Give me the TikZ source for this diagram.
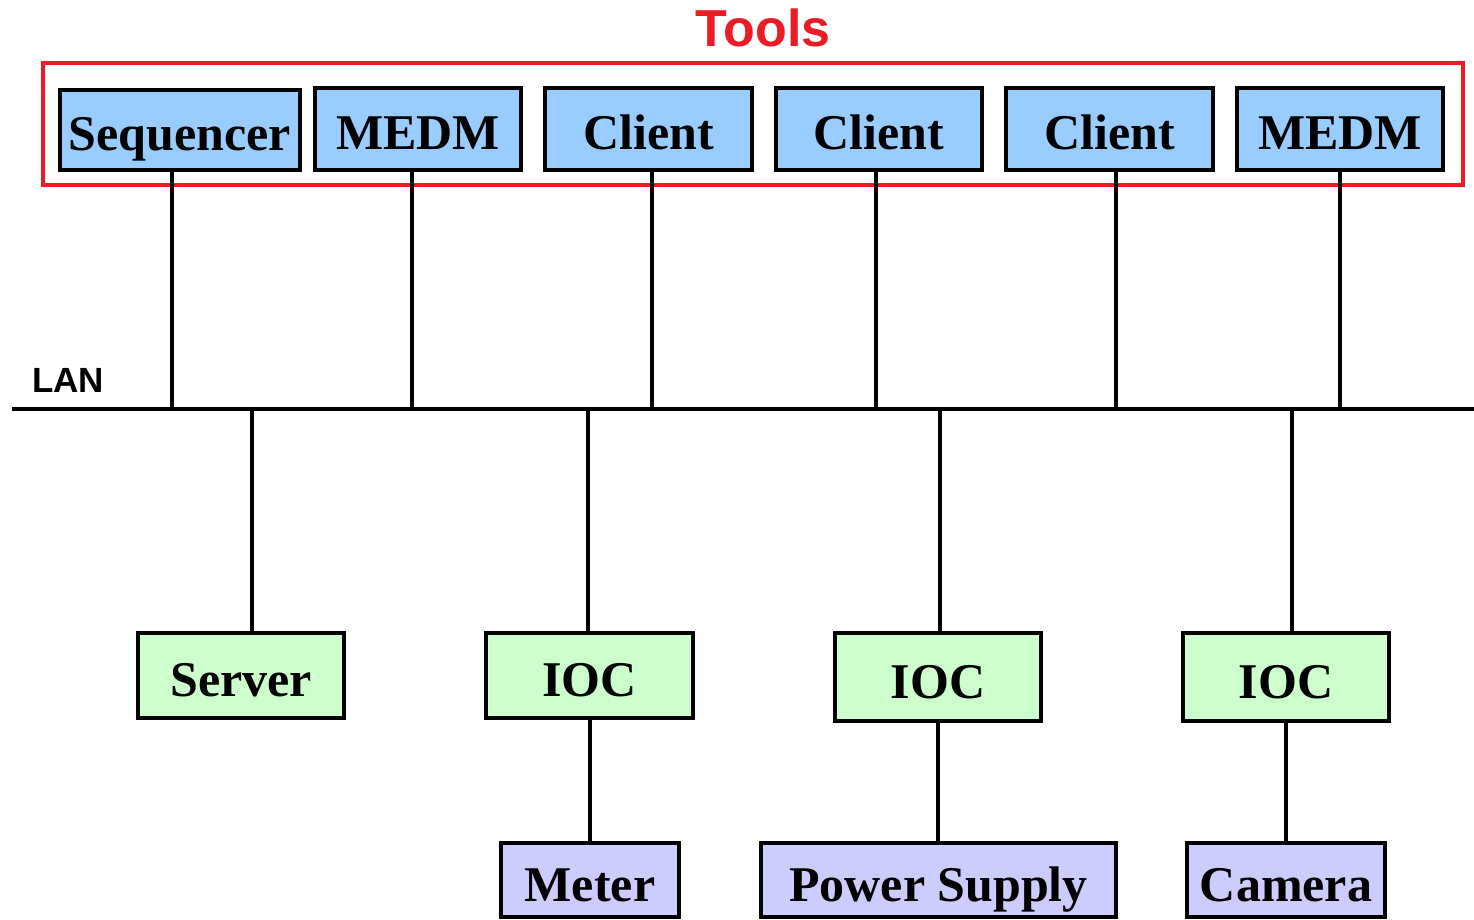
\documentclass[tikz,border=0pt]{standalone}
\usepackage{fontspec}
\setmainfont{Liberation Serif}
\newfontfamily\arialfont{Liberation Sans}
\definecolor{toolblue}{HTML}{99CCFF}
\definecolor{iocgreen}{HTML}{CCFFCC}
\definecolor{devpurple}{HTML}{CCCCFF}
\definecolor{toolred}{HTML}{ED1C24}
\begin{document}
\begin{tikzpicture}[x=1pt,y=-1pt,
  box/.style={draw=black,line width=4.5pt,inner sep=0pt,text height=42pt,text depth=0pt,
    font=\fontsize{50}{60}\selectfont\bfseries},
  toolbox/.style={box,fill=toolblue,minimum height=82pt},
  iocbox/.style={box,fill=iocgreen},
  devbox/.style={box,fill=devpurple,minimum height=74pt},
  wire/.style={line width=4.6pt},
  thinwire/.style={line width=3.8pt}]
\useasboundingbox (0,0) rectangle (1474,920);
% Tools frame
\node[draw=toolred,line width=4.5pt,minimum width=1420pt,minimum height=122pt,inner sep=0pt] (frame) at (753,124) {};
\node[text=toolred,font=\arialfont\fontsize{52}{60}\selectfont\bfseries] (tools) at (763,28) {Tools};
% top boxes
\node[toolbox,minimum width=240pt,minimum height=80pt] (seq) at (180,130) {Sequencer};
\node[toolbox,minimum width=206pt] (medmA) at (418,129) {MEDM};
\node[toolbox,minimum width=207pt] (clA) at (648.5,129) {Client};
\node[toolbox,minimum width=206pt] (clB) at (879,129) {Client};
\node[toolbox,minimum width=207pt] (clC) at (1109.5,129) {Client};
\node[toolbox,minimum width=206pt] (medmB) at (1340,129) {MEDM};
% LAN
\coordinate (lanL) at (12,409);
\coordinate (lanR) at (1474,409);
\draw[wire] (lanL) -- (lanR);
\node[font=\arialfont\fontsize{35}{40}\selectfont\bfseries,anchor=west,inner sep=0pt] (lan) at (32,380) {LAN};
\coordinate (t1) at (172,409);
\coordinate (t2) at (412,409);
\coordinate (t3) at (652,409);
\coordinate (t4) at (876,409);
\coordinate (t5) at (1116,409);
\coordinate (t6) at (1340,409);
\draw[wire] (seq.south -| t1) -- (t1);
\draw[wire] (medmA.south -| t2) -- (t2);
\draw[wire] (clA.south -| t3) -- (t3);
\draw[wire] (clB.south -| t4) -- (t4);
\draw[wire] (clC.south -| t5) -- (t5);
\draw[wire] (medmB.south -| t6) -- (t6);
% lower boxes
\node[iocbox,minimum width=206pt,minimum height=85pt] (server) at (241,675.5) {Server};
\node[iocbox,minimum width=207pt,minimum height=85pt] (iocA) at (589.5,675.5) {IOC};
\node[iocbox,minimum width=206pt,minimum height=88pt] (iocB) at (938,677) {IOC};
\node[iocbox,minimum width=206pt,minimum height=88pt] (iocC) at (1286,677) {IOC};
\coordinate (b1) at (252,409);
\coordinate (b2) at (588,409);
\coordinate (b3) at (940,409);
\coordinate (b4) at (1292,409);
\draw[wire] (b1) -- (server.north -| b1);
\draw[wire] (b2) -- (iocA.north -| b2);
\draw[wire] (b3) -- (iocB.north -| b3);
\draw[wire] (b4) -- (iocC.north -| b4);
% devices
\node[devbox,minimum width=178pt] (meter) at (590,880) {Meter};
\node[devbox,minimum width=355pt] (psu) at (938.5,880) {Power Supply};
\node[devbox,minimum width=198pt] (cam) at (1286,880) {Camera};
\draw[thinwire] (iocA.south -| meter.north) -- (meter.north);
\draw[thinwire] (iocB.south -| 938,0) -- (psu.north -| 938,0);
\draw[thinwire] (iocC.south -| cam.north) -- (cam.north);
\end{tikzpicture}
\end{document}
